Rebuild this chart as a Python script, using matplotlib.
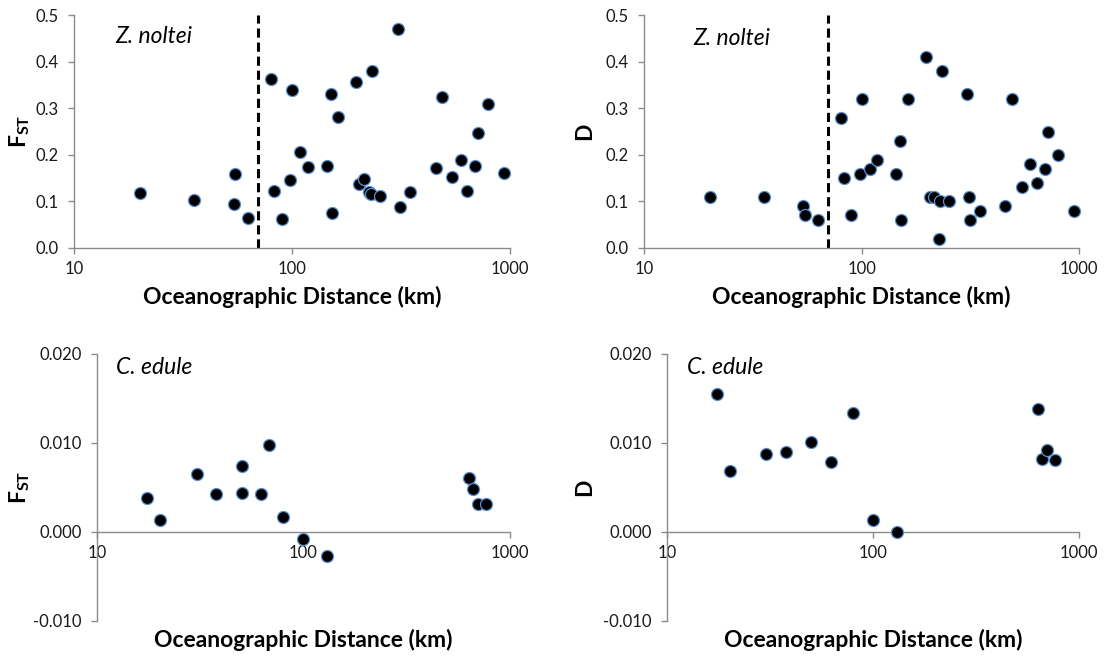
import numpy as np
import matplotlib
matplotlib.use('Agg')
import matplotlib.pyplot as plt
from matplotlib.ticker import FixedLocator, FormatStrFormatter, NullLocator

plt.rcParams['font.family'] = ['Lato', 'DejaVu Sans']
plt.rcParams['mathtext.fontset'] = 'custom'
plt.rcParams['mathtext.bf'] = 'Lato:bold'
plt.rcParams['mathtext.rm'] = 'Lato'

# Z. noltei - FST
zn_dist_fst = [20, 35.5, 55, 54, 63, 80, 83, 90, 100, 98, 109, 118, 145, 151, 152, 162, 197, 204,
               214, 234, 226, 230, 253, 305, 313, 347, 456, 487, 542, 596, 632, 693, 715, 794, 942]
zn_fst = [0.118, 0.103, 0.160, 0.094, 0.065, 0.363, 0.122, 0.063, 0.340, 0.146, 0.206, 0.173,
          0.176, 0.331, 0.076, 0.282, 0.357, 0.138, 0.148, 0.381, 0.120, 0.115, 0.112, 0.471,
          0.087, 0.120, 0.172, 0.325, 0.153, 0.190, 0.122, 0.176, 0.248, 0.309, 0.161]

# Z. noltei - D
zn_dist_d = [20, 35.5, 54, 55, 63, 80, 83, 89, 100, 98, 109, 118, 144, 150, 152, 163, 198, 206,
             215, 230, 251, 227, 234, 305, 312, 313, 350, 457, 488, 543, 596, 637, 698, 719, 797, 950]
zn_d = [0.11, 0.11, 0.09, 0.07, 0.06, 0.28, 0.15, 0.07, 0.32, 0.16, 0.17, 0.19, 0.16, 0.23, 0.06,
        0.32, 0.41, 0.11, 0.11, 0.10, 0.10, 0.02, 0.38, 0.33, 0.11, 0.06, 0.08, 0.09, 0.32, 0.13,
        0.18, 0.14, 0.17, 0.25, 0.20, 0.08]

# C. edule - FST
ce_dist_fst = [17.5, 20.3, 30.4, 37.7, 50.5, 50.5, 62.3, 68, 80, 99.4, 130, 633, 662, 700, 765]
ce_fst = [0.0038, 0.0013, 0.0065, 0.0042, 0.0074, 0.0044, 0.0043, 0.0098, 0.0017, -0.0008,
          -0.0027, 0.0060, 0.0048, 0.0031, 0.0031]

# C. edule - D
ce_dist_d = [17.5, 20.2, 30.3, 37.7, 50.3, 62.3, 79.6, 100, 130, 632, 662, 700, 765]
ce_d = [0.0155, 0.0068, 0.0087, 0.0090, 0.0101, 0.0078, 0.0134, 0.0013, 0.0000, 0.0138,
        0.0082, 0.0092, 0.0081]

threshold = 70
xticks = [10, 100, 1000]
top_yticks = [0.0, 0.1, 0.2, 0.3, 0.4, 0.5]
bot_yticks = [-0.010, 0.000, 0.010, 0.020]

fig = plt.figure(figsize=(11.07, 6.62), dpi=100)
ax1 = fig.add_axes([0.0668, 0.6254, 0.3939, 0.3515])
ax2 = fig.add_axes([0.5818, 0.6254, 0.3932, 0.3515])
ax3 = fig.add_axes([0.0876, 0.0624, 0.3731, 0.4029])
ax4 = fig.add_axes([0.6023, 0.0624, 0.3727, 0.4029])

spine_col = '#8c8c8c'


def style(ax, yticks, fmt, ylabel, species, sp_xy, ylab_x, xlab_y):
    ax.set_xscale('log')
    ax.set_xlim(10, 1000)
    ax.set_ylim(yticks[0], yticks[-1])
    ax.xaxis.set_major_locator(FixedLocator(xticks))
    ax.xaxis.set_major_formatter(FormatStrFormatter('%d'))
    ax.xaxis.set_minor_locator(NullLocator())
    ax.yaxis.set_major_locator(FixedLocator(yticks))
    ax.yaxis.set_major_formatter(FormatStrFormatter(fmt))
    for s in ['top', 'right']:
        ax.spines[s].set_visible(False)
    for s in ['left', 'bottom']:
        ax.spines[s].set_color(spine_col)
        ax.spines[s].set_linewidth(1.0)
    ax.tick_params(axis='both', direction='out', length=4, width=1.0, color=spine_col,
                   labelsize=12, labelcolor='#1a1a1a')
    ax.tick_params(axis='y', pad=7)
    ax.tick_params(axis='x', pad=5.5)
    ax.set_ylabel(ylabel, fontsize=16.5, fontweight='bold')
    ax.yaxis.set_label_coords(ylab_x, 0.5)
    ax.set_xlabel('Oceanographic Distance (km)', fontsize=16.5, fontweight='bold')
    ax.xaxis.set_label_coords(0.5, xlab_y)
    ax.text(sp_xy[0], sp_xy[1], species, transform=ax.transAxes, fontsize=16.5,
            fontstyle='italic', ha='left', va='center')


def dots(ax, x, y):
    ax.scatter(x, y, s=75, c='black', edgecolors='#5b8fd0', linewidths=0.9, zorder=3,
               clip_on=False)


dots(ax1, zn_dist_fst, zn_fst)
ax1.axvline(threshold, color='black', linestyle=(0, (3, 1.6)), linewidth=2.2, zorder=2)
style(ax1, top_yticks, '%.1f', r'$\mathbf{F_{ST}}$', 'Z. noltei', (0.094, 0.911), -0.096, -0.165)

dots(ax2, zn_dist_d, zn_d)
ax2.axvline(threshold, color='black', linestyle=(0, (3, 1.6)), linewidth=2.2, zorder=2)
style(ax2, top_yticks, '%.1f', 'D', 'Z. noltei', (0.113, 0.902), -0.113, -0.165)

dots(ax3, ce_dist_fst, ce_fst)
style(ax3, bot_yticks, '%.3f', r'$\mathbf{F_{ST}}$', 'C. edule', (0.046, 0.9475), -0.157, -0.03)
ax3.spines['bottom'].set_position(('data', 0))

dots(ax4, ce_dist_d, ce_d)
style(ax4, bot_yticks, '%.3f', 'D', 'C. edule', (0.049, 0.9475), -0.174, -0.03)
ax4.spines['bottom'].set_position(('data', 0))

fig.savefig('out.png', dpi=100)
